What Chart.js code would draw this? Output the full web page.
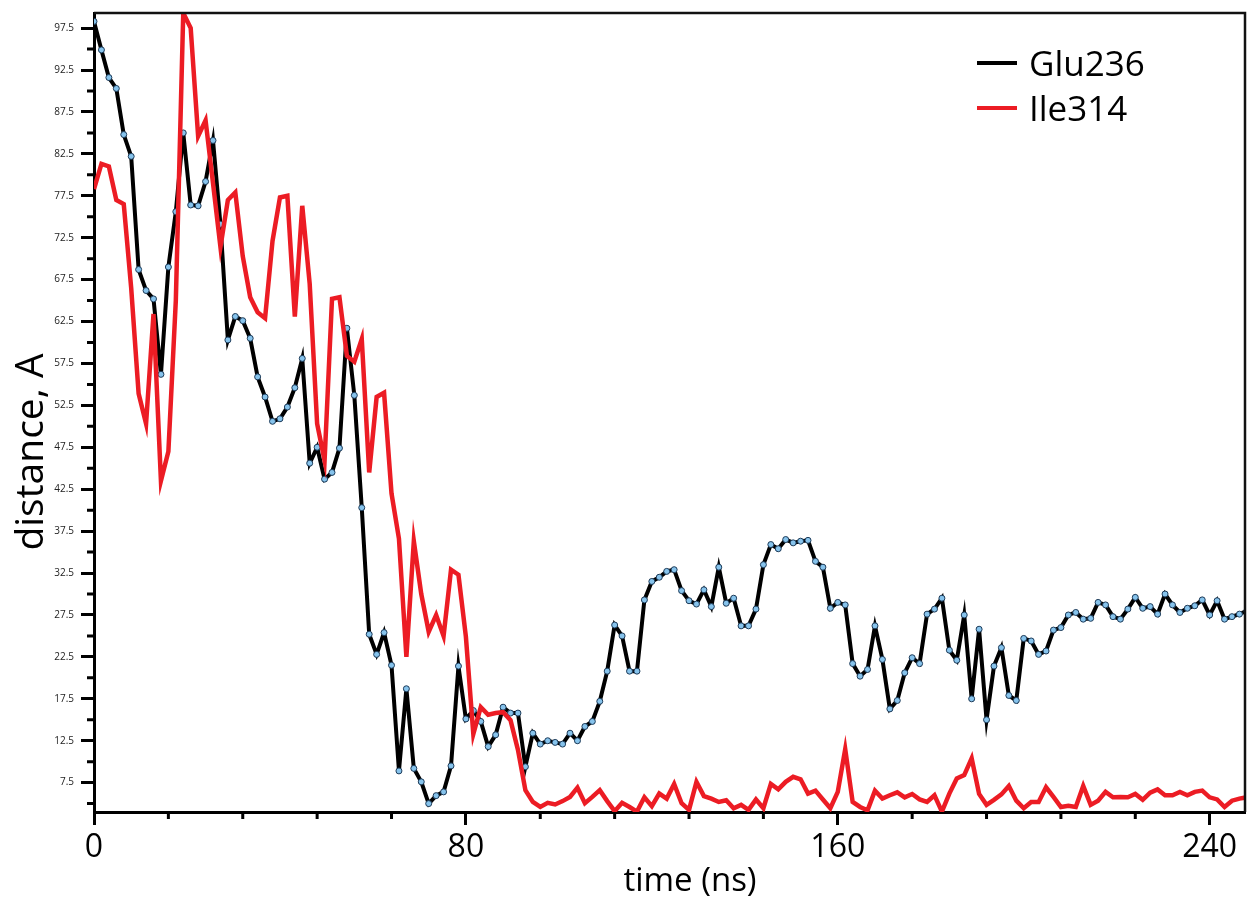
<!DOCTYPE html>
<html>
<head>
<meta charset="utf-8">
<title>distance vs time</title>
<script src="https://cdn.jsdelivr.net/npm/chart.js@4.4.1/dist/chart.umd.min.js"></script>
<style>
  html, body { margin: 0; padding: 0; background: #fff; }
  .chart-ctnr { width: 1250px; height: 905px; position: relative; }
</style>
</head>
<body>
<div class="chart-ctnr"><canvas id="distchart"></canvas></div>
<script>
// sampling step of the trajectory (ns)
const step = 1.6;

// Glu236 distance (A), one value per frame
const glu236 = [
  98.3, 94.9, 91.6, 90.3, 84.8, 82.2, 68.7, 66.2, 65.2, 56.2,
  69.0, 75.6, 85.0, 76.4, 76.3, 79.2, 84.1, 74.1, 60.3, 63.1,
  62.6, 60.5, 55.9, 53.5, 50.6, 50.9, 52.3, 54.6, 58.1, 45.6,
  47.5, 43.7, 44.5, 47.4, 61.7, 53.7, 40.3, 25.2, 22.8, 25.4,
  21.5, 8.9, 18.7, 9.2, 7.6, 5.0, 5.95, 6.4, 9.5, 21.4,
  15.1, 16.1, 14.8, 11.8, 13.2, 16.5, 15.8, 15.8, 9.4, 13.4,
  12.1, 12.5, 12.3, 12.1, 13.4, 12.5, 14.2, 14.8, 17.2, 20.8,
  26.3, 25.0, 20.8, 20.8, 29.3, 31.5, 32.0, 32.7, 32.9, 30.4,
  29.2, 28.8, 30.5, 28.5, 33.2, 28.9, 29.5, 26.2, 26.2, 28.2,
  33.5, 35.9, 35.4, 36.5, 36.1, 36.3, 36.4, 33.9, 33.2, 28.3,
  29.0, 28.7, 21.7, 20.2, 21.0, 26.2, 22.2, 16.3, 17.3, 20.6,
  22.4, 21.7, 27.6, 28.2, 29.5, 23.3, 22.1, 27.5, 17.5, 25.8,
  15.0, 21.4, 23.6, 17.9, 17.3, 24.7, 24.4, 22.8, 23.2, 25.7,
  26.0, 27.5, 27.8, 27.0, 27.1, 29.0, 28.7, 27.3, 27.0, 28.2,
  29.6, 28.3, 28.5, 27.6, 30.0, 28.7, 27.8, 28.3, 28.6, 29.3,
  27.5, 29.2, 27.0, 27.3, 27.6, 28.0
];

// Ile314 distance (A)
const ile314 = [
  78.3, 81.3, 81.0, 77.0, 76.5, 66.5, 53.9, 50.3, 63.4, 43.5,
  47.0, 65.0, 99.3, 97.5, 84.6, 86.5, 79.0, 71.4, 77.0, 77.9,
  70.3, 65.4, 63.6, 62.9, 72.1, 77.3, 77.5, 63.1, 76.3, 67.0,
  50.3, 45.9, 65.2, 65.4, 58.4, 57.7, 60.4, 44.5, 53.5, 54.0,
  42.0, 36.6, 22.5, 36.3, 30.0, 25.5, 27.5, 25.0, 32.9, 32.3,
  24.9, 13.3, 16.5, 15.6, 15.8, 15.9, 14.95, 11.4, 6.6, 5.2,
  4.6, 5.1, 4.9, 5.3, 5.8, 6.9, 5.05, 5.8, 6.6, 5.3,
  4.1, 5.1, 4.6, 4.05, 5.75, 4.7, 6.2, 5.6, 7.35, 5.05,
  4.25, 7.6, 5.9, 5.6, 5.2, 5.4, 4.45, 4.85, 4.25, 5.5,
  4.45, 7.35, 6.7, 7.6, 8.2, 7.9, 6.2, 6.55, 5.5, 4.45,
  6.4, 11.5, 5.2, 4.6, 4.2, 6.55, 5.6, 6.0, 6.35, 5.75,
  6.15, 5.5, 5.2, 6.0, 4.05, 6.2, 8.0, 8.4, 10.4, 6.15,
  4.85, 5.45, 6.1, 7.1, 5.35, 4.45, 5.2, 5.2, 6.95, 5.8,
  4.6, 4.75, 4.6, 7.1, 4.85, 5.35, 6.4, 5.75, 5.8, 5.75,
  6.15, 5.45, 6.3, 6.7, 6.0, 6.0, 6.4, 6.0, 6.4, 6.55,
  5.75, 5.5, 4.6, 5.35, 5.6, 5.75
];

// time axis of every frame
const times = glu236.map((_, i) => +(i * step).toFixed(1));

// tick values
const xLabelTicks = [0, 80, 160, 240];
const xMinorTicks = [16, 32, 48, 64, 96, 112, 128, 144, 176, 192, 208, 224];
const yLabelTicks = [7.5, 12.5, 17.5, 22.5, 27.5, 32.5, 37.5, 42.5, 47.5, 52.5,
  57.5, 62.5, 67.5, 72.5, 77.5, 82.5, 87.5, 92.5, 97.5];
const yMinorTicks = [5, 10, 15, 20, 25, 30, 35, 40, 45, 50, 55, 60, 65, 70, 75,
  80, 85, 90, 95];

const fontName = "'Open Sans', 'Noto Sans', sans-serif";

const toPoints = (vals) => vals.map((v, i) => ({ x: times[i], y: v }));

// frame, short ticks, axis titles and legend
const decorPlugin = {
  id: "decor",
  afterDraw(chart) {
    const ctx = chart.ctx;
    const { left, right, top, bottom } = chart.chartArea;
    const xs = chart.scales.x;
    const ys = chart.scales.y;
    ctx.save();

    // top + right frame
    ctx.strokeStyle = "#111";
    ctx.lineWidth = 2.5;
    ctx.beginPath();
    ctx.moveTo(left, top);
    ctx.lineTo(right, top);
    ctx.lineTo(right, bottom);
    ctx.stroke();

    // minor ticks
    ctx.strokeStyle = "#000";
    ctx.lineWidth = 3;
    ctx.beginPath();
    xMinorTicks.forEach((v) => {
      const px = xs.getPixelForValue(v);
      ctx.moveTo(px, bottom);
      ctx.lineTo(px, bottom + 7);
    });
    yMinorTicks.forEach((v) => {
      const py = ys.getPixelForValue(v);
      ctx.moveTo(left, py);
      ctx.lineTo(left - 7, py);
    });
    ctx.stroke();

    // axis titles
    ctx.fillStyle = "#000";
    ctx.textBaseline = "alphabetic";
    ctx.textAlign = "center";
    ctx.font = "33px " + fontName;
    ctx.fillText("time (ns)", 690, 891);
    ctx.save();
    ctx.translate(43, 452);
    ctx.rotate(-Math.PI / 2);
    ctx.font = "39px " + fontName;
    ctx.fillText("distance, A", 0, 0);
    ctx.restore();

    // legend
    ctx.textAlign = "left";
    ctx.font = "35px " + fontName;
    chart.data.datasets.forEach((ds, i) => {
      const ly = 63 + i * 45;
      ctx.strokeStyle = ds.borderColor;
      ctx.lineWidth = 4;
      ctx.beginPath();
      ctx.moveTo(977, ly);
      ctx.lineTo(1017, ly);
      ctx.stroke();
      ctx.fillStyle = "#000";
      ctx.fillText(ds.label, 1029, ly + 12.5);
    });

    ctx.restore();
  },
};

const ctx = document.getElementById("distchart");
new Chart(ctx, {
  type: "line",
  data: {
    datasets: [
      {
        label: "Glu236",
        data: toPoints(glu236),
        borderColor: "#000000",
        borderWidth: 4,
        pointRadius: 3,
        pointBorderWidth: 1,
        pointBackgroundColor: "#86c3ec",
        pointBorderColor: "#1c3a58",
        tension: 0,
        order: 1,
      },
      {
        label: "Ile314",
        data: toPoints(ile314),
        borderColor: "#ec1c24",
        borderWidth: 4.5,
        pointRadius: 0,
        tension: 0,
        order: 0,
      },
    ],
  },
  options: {
    responsive: true,
    maintainAspectRatio: false,
    animation: false,
    devicePixelRatio: 1,
    layout: { padding: { top: 12, right: 2, left: 0, bottom: 0 } },
    plugins: {
      legend: { display: false },
      tooltip: { enabled: false },
    },
    scales: {
      x: {
        type: "linear",
        min: 0,
        max: 247.6,
        afterBuildTicks: (scale) => {
          scale.ticks = xLabelTicks.map((v) => ({ value: v }));
        },
        afterFit: (scale) => {
          scale.height = 93;
        },
        border: { display: true, color: "#000", width: 3 },
        grid: {
          drawOnChartArea: false,
          drawTicks: true,
          tickLength: 13,
          tickWidth: 3,
          tickColor: "#000",
        },
        ticks: {
          color: "#000",
          padding: 4,
          maxRotation: 0,
          autoSkip: false,
          font: { family: fontName, size: 32 },
        },
      },
      y: {
        type: "linear",
        min: 4.0,
        max: 99.3,
        afterBuildTicks: (scale) => {
          scale.ticks = yLabelTicks.map((v) => ({ value: v }));
        },
        afterFit: (scale) => {
          scale.width = 94;
        },
        border: { display: true, color: "#000", width: 3 },
        grid: {
          drawOnChartArea: false,
          drawTicks: true,
          tickLength: 13,
          tickWidth: 3,
          tickColor: "#000",
        },
        ticks: {
          color: "#222",
          padding: 7,
          autoSkip: false,
          font: { family: fontName, size: 10 },
        },
      },
    },
  },
  plugins: [decorPlugin],
});
</script>
</body>
</html>
